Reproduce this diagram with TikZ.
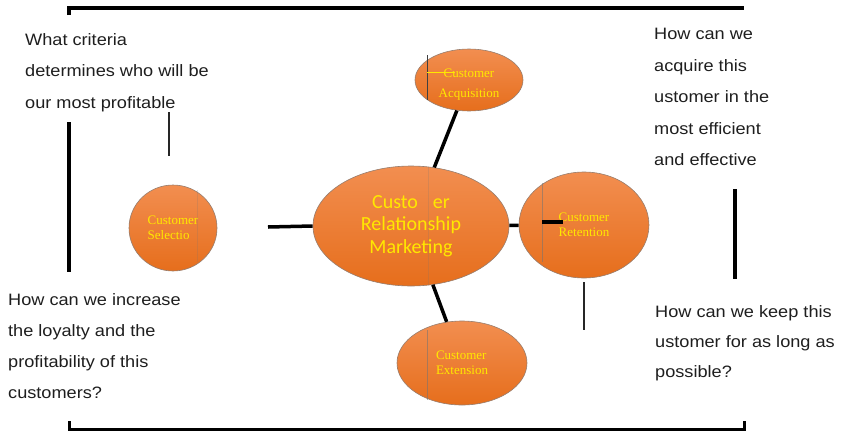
\documentclass[tikz,border=0pt]{standalone}
\usepackage{fontspec}
\setmainfont{Liberation Sans}
\newfontfamily\qfont[FakeStretch=1.1]{Liberation Sans}
\newfontfamily\hubfont{Carlito}
\newfontfamily\satfont{Liberation Serif}
\usetikzlibrary{shapes.geometric}

\definecolor{qtext}{RGB}{30,30,30}
\definecolor{ovaltop}{RGB}{242,142,80}
\definecolor{ovalbot}{RGB}{230,110,28}
\definecolor{ovaledge}{RGB}{150,125,110}
\definecolor{labelyellow}{RGB}{255,232,0}

\begin{document}
\begin{tikzpicture}[x=1pt,y=-1pt,
  oval/.style={ellipse, draw=ovaledge, line width=0.6pt,
    top color=ovaltop, bottom color=ovalbot,
    inner sep=0pt, text=labelyellow, align=center},
  hub/.style={oval, font=\hubfont\fontsize{20}{22.5}\selectfont},
  sat/.style={oval, align=left, font=\satfont\fontsize{13}{15}\selectfont},
  question/.style={anchor=north west, inner sep=0pt, align=left,
    text=qtext, font=\qfont\fontsize{16.5}{31.5}\selectfont},
  link/.style={line width=3.5pt, black},
  frame/.style={line width=4pt, black},
  tick/.style={line width=1.3pt, black!85},
  seam/.style={line width=0.6pt, black!55, opacity=0.55},
  faintseam/.style={seam, opacity=0.2}
]
\useasboundingbox (0,0) rectangle (847,432);

% outer bracket lines
\draw[frame] (69,15) -- (69,8) -- (744,8);
\draw[line width=3pt, black] (69,421) -- (69,429) -- (744,429) -- (744,421);
\draw[frame] (69,122) -- (69,272);
\draw[frame] (735,189) -- (735,279);

% small pointer ticks
\draw[tick] (169,112) -- (169,156);
\draw[tick] (584,282) -- (584,330);

% ovals
\node[hub, minimum width=196pt, minimum height=120pt] (crm) at (411,226)
  {Custo\hspace{0.75em}er\\Relationship\\Marketing};
\node[sat, align=center, minimum width=108pt, minimum height=62pt,
  text height=37pt, font=\satfont\fontsize{13}{20}\selectfont] (acq) at (469,80)
  {Customer\\Acquisition};
\node[sat, minimum width=130pt, minimum height=106pt] (ret) at (584,225)
  {Customer\\Retention};
\node[sat, minimum width=88pt, minimum height=86pt] (sel) at (173,228)
  {Customer\\Selectio};
\node[sat, minimum width=130pt, minimum height=84pt] (ext) at (462,363)
  {Customer\\Extension};

% seams across the ovals
\draw[faintseam] (428,167) -- (428,285);
\draw[line width=0.6pt, black!75] (427,55) -- (427,100);
\draw[seam] (542,183) -- (542,262);
\draw[faintseam] (197,190) -- (197,262);
\draw[seam] (427,330) -- (427,400);
\draw[labelyellow, line width=0.8pt] (427,72) -- (455,72);

% connectors from the hub
\coordinate (selstub) at (268,227);
\draw[link] (crm) -- (acq);
\draw[link] (crm) -- (ext);
\draw[link] (crm) -- (ret);
\draw[link] (crm.west) -- (selstub);
\coordinate (retin) at (563,222);
\draw[link] (542,222) -- (retin);

% questions
\node[question] (qsel) at (25,33)
  {What criteria\\determines who will be\\our most profitable};
\node[question] (qacq) at (654,28)
  {How can we\\acquire this\\ustomer in the\\most efficient\\and effective};
\node[question, font=\qfont\fontsize{16.5}{31}\selectfont] (qext) at (8,293)
  {How can we increase\\the loyalty and the\\profitability of this\\customers?};
\node[question, font=\qfont\fontsize{16.5}{30}\selectfont] (qret) at (655,305)
  {How can we keep this\\ustomer for as long as\\possible?};
\end{tikzpicture}
\end{document}
